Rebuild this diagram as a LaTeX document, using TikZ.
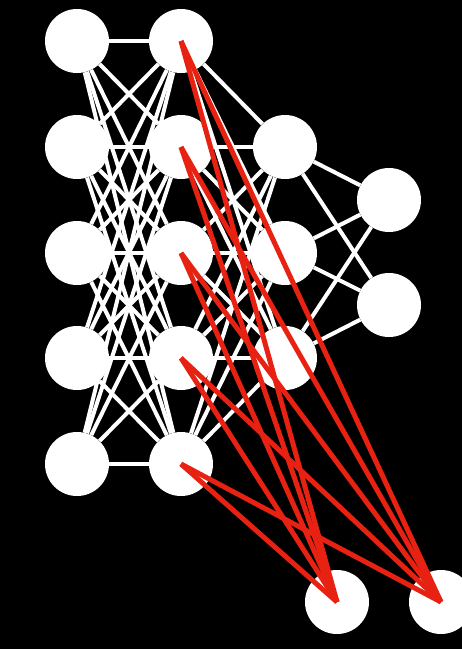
\documentclass[tikz,border=0pt]{standalone}
\usepackage{amsmath,amssymb,xcolor}
\usepackage{tikz}
\definecolor{wred}{RGB}{232,34,18}

\begin{document}
\begin{tikzpicture}[x=1pt,y=-1pt]
        \fill[black] (0,0) rectangle (462,649);
        \useasboundingbox (0,0) rectangle (462,649);
        \tikzset{unit/.style={shape=circle, fill=white, draw=none, minimum size=64pt, inner sep=0pt},
                 wire/.style={draw=white, line width=4pt},
                 hot/.style={draw=wred, line width=5pt}}
        % input layer
        \node[unit] (a1) at (77,41){};
        \node[unit] (a2) at (77,147){};
        \node[unit] (a3) at (77,253){};
        \node[unit] (a4) at (77,358){};
        \node[unit] (a5) at (77,464){};
        % second layer
        \node[unit] (b1) at (181,41){};
        \node[unit] (b2) at (181,147){};
        \node[unit] (b3) at (181,253){};
        \node[unit] (b4) at (181,358){};
        \node[unit] (b5) at (181,464){};
        % third layer
        \node[unit] (c1) at (285,147){};
        \node[unit] (c2) at (285,253){};
        \node[unit] (c3) at (285,358){};
        % output layer
        \node[unit] (d1) at (389,200){};
        \node[unit] (d2) at (389,305){};
        % extra outputs
        \node[unit] (e1) at (337,602){};
        \node[unit] (e2) at (441,602){};
        \path[wire] (a1) edge (b1) edge (b2) edge (b3) edge (b4) edge (b5);
        \path[wire] (a2) edge (b1) edge (b2) edge (b3) edge (b4) edge (b5);
        \path[wire] (a3) edge (b1) edge (b2) edge (b3) edge (b4) edge (b5);
        \path[wire] (a4) edge (b1) edge (b2) edge (b3) edge (b4) edge (b5);
        \path[wire] (a5) edge (b1) edge (b2) edge (b3) edge (b4) edge (b5);
        \path[wire] (b1) edge (c1) edge (c2) edge (c3);
        \path[wire] (b2) edge (c1) edge (c2) edge (c3);
        \path[wire] (b3) edge (c1) edge (c2) edge (c3);
        \path[wire] (b4) edge (c1) edge (c2) edge (c3);
        \path[wire] (b5) edge (c1) edge (c2) edge (c3);
        \path[wire] (c1) edge (d1) edge (d2);
        \path[wire] (c2) edge (d1) edge (d2);
        \path[wire] (c3) edge (d1) edge (d2);
        \path[hot] (b1.center) edge (e1.center) edge (e2.center);
        \path[hot] (b2.center) edge (e1.center) edge (e2.center);
        \path[hot] (b3.center) edge (e1.center) edge (e2.center);
        \path[hot] (b4.center) edge (e1.center) edge (e2.center);
        \path[hot] (b5.center) edge (e1.center) edge (e2.center);
    \end{tikzpicture}
\end{document}
